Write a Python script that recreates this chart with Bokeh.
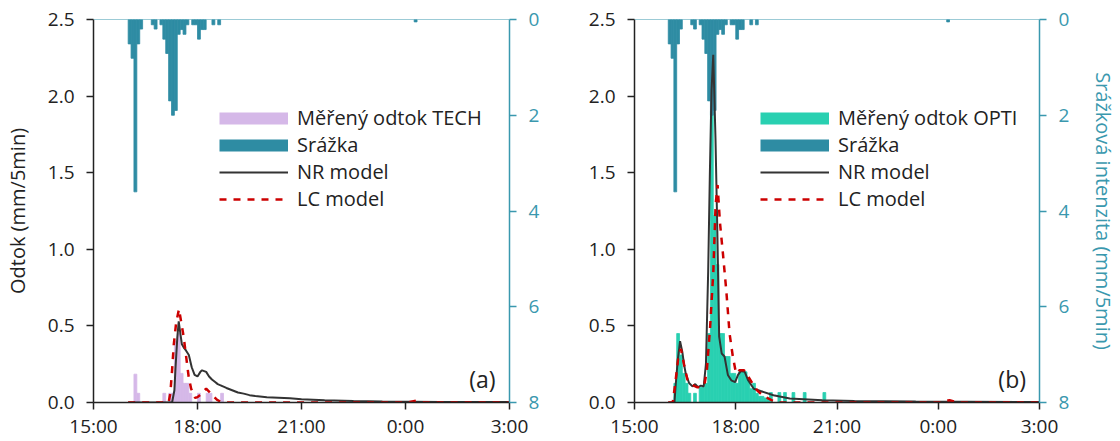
from bokeh.plotting import figure
from bokeh.models import (Range1d, LinearAxis, FixedTicker, Legend, LegendItem, Label,
                          Span, ColumnDataSource, NumeralTickFormatter)
from bokeh.layouts import row
from bokeh.embed import file_html
from bokeh.resources import INLINE

# ---------------- data (minutes after 15:00) ----------------
x_ticks = [0, 180, 360, 540, 720]
x_tick_labels = ["15:00", "18:00", "21:00", "0:00", "3:00"]
y_ticks = [0, 0.5, 1.0, 1.5, 2.0, 2.5]
rain_ticks = [0, 2, 4, 6, 8]

# rainfall intensity (mm/5min), 5-min bins, bin start time
rain_t = [60, 65, 70, 75, 80, 100, 105, 115, 120, 125, 130, 135, 140, 145, 150, 155, 160,
          170, 175, 180, 185, 190, 205, 215, 555]
rain_v = [0.51, 0.81, 3.6, 0.51, 0.2, 0.11, 0.2, 0.11, 0.41, 0.71, 1.7, 2.0, 1.9, 0.31, 0.21,
          0.31, 0.11, 0.11, 0.11, 0.41, 0.21, 0.21, 0.11, 0.11, 0.05]

# measured runoff TECH (panel a)
tech_t = [70, 75, 120, 130, 135, 140, 145, 150, 155, 160, 165, 180, 195, 200, 220]
tech_v = [0.185, 0.06, 0.06, 0.06, 0.06, 0.40, 0.45, 0.19, 0.125, 0.125, 0.06, 0.06, 0.06, 0.06, 0.06]

# measured runoff OPTI (panel b)
opti_t = [70, 75, 80, 85, 90, 95, 105, 115, 120, 125, 130, 135, 140, 145, 150, 155, 160, 165,
          170, 175, 180, 185, 190, 195, 200, 205, 210, 215, 220, 225, 230, 235, 240, 255, 265,
          280, 300, 335]
opti_v = [0.125, 0.45, 0.31, 0.19, 0.125, 0.06, 0.06, 0.10, 0.10, 0.125, 0.45, 1.9, 1.22, 0.9,
          0.45, 0.45, 0.30, 0.30, 0.19, 0.19, 0.125, 0.2, 0.2, 0.2, 0.15, 0.09, 0.125, 0.06,
          0.04, 0.04, 0.03, 0.03, 0.065, 0.065, 0.065, 0.065, 0.065, 0.065]

# NR model, panel a
nr_a_t = [60, 136, 140, 142, 145, 147.5, 150, 153, 156, 160, 165, 170, 175, 180, 185, 188, 195,
          200, 205, 210, 215, 220, 230, 240, 250, 260, 270, 280, 300, 340, 360, 400, 450, 500,
          600, 720]
nr_a_v = [0, 0, 0.08, 0.23, 0.42, 0.53, 0.46, 0.38, 0.36, 0.34, 0.31, 0.23, 0.18, 0.17, 0.20,
          0.21, 0.20, 0.17, 0.15, 0.135, 0.12, 0.112, 0.095, 0.08, 0.065, 0.058, 0.048, 0.042,
          0.035, 0.028, 0.022, 0.015, 0.01, 0.007, 0.004, 0.003]

# LC model, panel a
lc_a_t = [60, 130, 133, 136, 139, 143, 148, 152, 156, 162, 165, 169, 176, 180, 185, 190, 195,
          203, 209, 214, 220, 230, 545, 558, 572, 720]
lc_a_v = [0, 0, 0.06, 0.21, 0.38, 0.52, 0.61, 0.52, 0.43, 0.25, 0.16, 0.09, 0.03, 0.035, 0.05,
          0.075, 0.09, 0.06, 0.035, 0.017, 0.005, 0, 0, 0.012, 0, 0]

# NR model, panel b
nr_b_t = [60, 71, 74, 77, 81, 85, 88, 91, 97, 103, 108, 113, 118, 123, 127, 131, 134, 137, 140,
          144, 147.5, 150.5, 155, 160, 166, 172, 179, 184, 189, 196, 202, 212, 224, 247, 276,
          334, 391, 500, 720]
nr_b_v = [0, 0, 0.15, 0.28, 0.40, 0.33, 0.25, 0.19, 0.127, 0.105, 0.12, 0.10, 0.11, 0.105, 0.25,
          0.86, 1.5, 2.04, 2.27, 1.72, 1.07, 0.43, 0.32, 0.30, 0.18, 0.145, 0.133, 0.18, 0.205,
          0.20, 0.145, 0.09, 0.075, 0.047, 0.026, 0.015, 0.01, 0.006, 0.003]

# LC model, panel b
lc_b_t = [60, 68, 73, 78, 82.5, 88, 94, 102.6, 111, 120, 125, 128.6, 134.4, 140.2, 144.2, 147.7,
          151.8, 157.5, 163.2, 169, 174.8, 180.5, 186.4, 195, 203.7, 212, 218, 230, 241, 252,
          545, 560, 575, 720]
lc_b_v = [0, 0, 0.14, 0.30, 0.35, 0.25, 0.15, 0.115, 0.10, 0.10, 0.13, 0.21, 0.49, 0.86, 1.29,
          1.42, 1.18, 0.96, 0.73, 0.45, 0.30, 0.19, 0.21, 0.21, 0.16, 0.11, 0.08, 0.04, 0.02, 0,
          0, 0.015, 0, 0]

# ---------------- styling ----------------
FONT = "Open Sans"
DARK = "#222222"
RAIN = "#2e8ca3"
RAIN_AX = "#3a98ae"
TECH = "#d5b8e8"
OPTI = "#29d0b1"
NR = "#333333"
LC = "#cc0000"
BIN = 5
NAN = float("nan")


def make_panel(meas_t, meas_v, meas_color, meas_label, nr_t, nr_v, lc_t, lc_v, tag,
               left_border, right_border, left_title, right_title):
    p = figure(width=left_border + 416 + right_border, height=441,
               x_range=Range1d(0, 720), y_range=Range1d(0, 2.5),
               output_backend="svg", toolbar_location=None,
               min_border_left=left_border, min_border_right=right_border,
               min_border_top=19, min_border_bottom=35)
    p.outline_line_color = None
    p.grid.visible = False
    p.background_fill_color = "white"
    p.extra_y_ranges = {"rain": Range1d(8, 0)}

    # measured runoff bars
    msrc = ColumnDataSource(dict(left=meas_t, right=[t + BIN for t in meas_t],
                                 bottom=[0] * len(meas_t), top=meas_v))
    p.quad(left="left", right="right", bottom="bottom", top="top", source=msrc,
           fill_color=meas_color, line_color=meas_color, line_width=0.8)

    # rainfall bars (hanging from the top)
    rsrc = ColumnDataSource(dict(left=rain_t, right=[t + BIN for t in rain_t],
                                 top=[0] * len(rain_t), bottom=rain_v))
    p.quad(left="left", right="right", bottom="bottom", top="top", source=rsrc,
           fill_color=RAIN, line_color=RAIN, line_width=0.8, y_range_name="rain")

    p.add_layout(Span(location=2.5, dimension="width", line_color=RAIN_AX, line_width=1.2))

    nr = p.line(nr_t, nr_v, line_color=NR, line_width=2)
    lc = p.line(lc_t, lc_v, line_color=LC, line_width=2.5, line_dash="7 7")

    # legend swatches for the bar series (no visible data)
    leg_meas = p.line(x=[NAN, NAN], y=[NAN, NAN], line_color=meas_color, line_width=12)
    leg_rain = p.line(x=[NAN, NAN], y=[NAN, NAN], line_color=RAIN, line_width=12)

    legend = Legend(items=[LegendItem(label=meas_label, renderers=[leg_meas]),
                           LegendItem(label="Srážka", renderers=[leg_rain]),
                           LegendItem(label="NR model", renderers=[nr]),
                           LegendItem(label="LC model", renderers=[lc])],
                    location=(126, 190), glyph_width=69, glyph_height=20, label_height=20,
                    spacing=-2, label_standoff=9, padding=0, margin=0,
                    border_line_color=None, background_fill_alpha=0,
                    label_text_font=FONT, label_text_font_size="20px", label_text_color=DARK)
    p.add_layout(legend)

    p.add_layout(Label(x=696, y=0.155, text=tag, text_align="right", text_baseline="middle",
                       text_font=FONT, text_font_size="23px", text_color=DARK))

    # axes
    xa = p.xaxis[0]
    xa.ticker = FixedTicker(ticks=x_ticks)
    xa.major_label_overrides = {t: l for t, l in zip(x_ticks, x_tick_labels)}
    ya = p.yaxis[0]
    ya.ticker = FixedTicker(ticks=y_ticks)
    ya.formatter = NumeralTickFormatter(format="0.0")
    for ax in (xa, ya):
        ax.axis_line_color = DARK
        ax.axis_line_width = 1.5
        ax.major_tick_line_color = DARK
        ax.major_tick_line_width = 1.5
        ax.major_tick_out = 7
        ax.major_tick_in = 0
        ax.minor_tick_line_color = None
        ax.major_label_text_font = FONT
        ax.major_label_text_font_size = "19px"
        ax.major_label_text_color = DARK
    xa.major_label_standoff = 3
    ya.major_label_standoff = 12
    if left_title:
        ya.axis_label = left_title
        ya.axis_label_text_font = FONT
        ya.axis_label_text_font_size = "20px"
        ya.axis_label_text_font_style = "normal"
        ya.axis_label_text_color = DARK
        ya.axis_label_standoff = 14

    ra = LinearAxis(y_range_name="rain", ticker=FixedTicker(ticks=rain_ticks))
    ra.axis_line_color = RAIN_AX
    ra.axis_line_width = 1.5
    ra.major_tick_line_color = RAIN_AX
    ra.major_tick_line_width = 1.5
    ra.major_tick_out = 7
    ra.major_tick_in = 0
    ra.minor_tick_line_color = None
    ra.major_label_text_font = FONT
    ra.major_label_text_font_size = "19px"
    ra.major_label_text_color = RAIN_AX
    ra.major_label_standoff = 12
    if right_title:
        ra.axis_label = right_title
        ra.axis_label_text_font = FONT
        ra.axis_label_text_font_size = "20px"
        ra.axis_label_text_font_style = "normal"
        ra.axis_label_text_color = RAIN_AX
        ra.axis_label_standoff = 18
    p.add_layout(ra, "right")
    return p


pa = make_panel(tech_t, tech_v, TECH, "Měřený odtok TECH", nr_a_t, nr_a_v, lc_a_t, lc_a_v,
                "(a)", 93, 51, "Odtok (mm/5min)", None)
pb = make_panel(opti_t, opti_v, OPTI, "Měřený odtok OPTI", nr_b_t, nr_b_v, lc_b_t, lc_b_v,
                "(b)", 74, 70, None, "Srážková intenzita (mm/5min)")

layout = row(pa, pb)
open("out.html", "w").write(file_html(layout, INLINE))
